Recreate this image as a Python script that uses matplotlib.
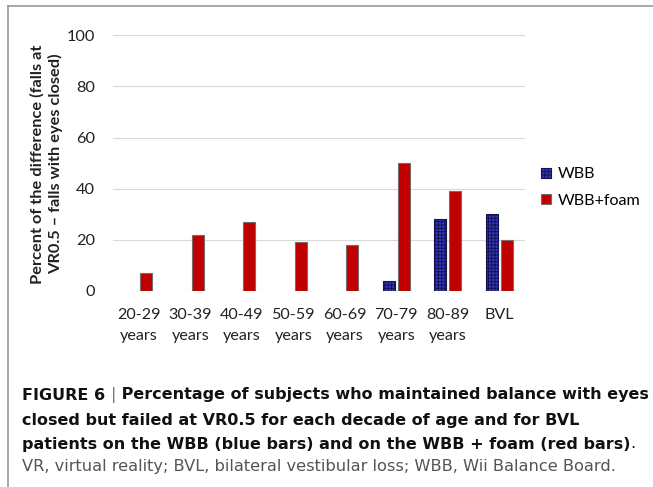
import numpy as np
import matplotlib.pyplot as plt
from matplotlib.lines import Line2D

# ---------- data ----------
categories = ["20-29\nyears", "30-39\nyears", "40-49\nyears", "50-59\nyears",
              "60-69\nyears", "70-79\nyears", "80-89\nyears", "BVL"]
wbb = [0, 0, 0, 0, 0, 4, 28, 30]
wbb_foam = [7, 22, 27, 19, 18, 50, 39, 20]
yticks = [0, 20, 40, 60, 80, 100]

ylabel = "Percent of the difference (falls at\nVR0.5 \u2013 falls with eyes closed)"
caption_head = "FIGURE 6 "
caption_rest = [" Percentage of subjects who maintained balance with eyes",
                "closed but failed at VR0.5 for each decade of age and for BVL",
                "patients on the WBB (blue bars) and on the WBB + foam (red bars)"]
caption_plain = "VR, virtual reality; BVL, bilateral vestibular loss; WBB, Wii Balance Board."

# ---------- figure ----------
W, H = 653, 487
fig = plt.figure(figsize=(W / 100, H / 100), dpi=100)
plt.rcParams['hatch.linewidth'] = 0.7

ax = fig.add_axes([113 / W, 1 - 291 / H, 412 / W, 255.7 / H])
x = np.arange(len(categories))
bw = 0.23
off = 0.145

# zero-height blue bars are not drawn
blue_x = [xi - off for xi, v in zip(x, wbb) if v > 0]
blue_v = [v for v in wbb if v > 0]
b1 = ax.bar(blue_x, blue_v, bw, color="#3434c8", edgecolor="#14144a",
            hatch="+++++", linewidth=0.8, zorder=3, label="WBB")
b2 = ax.bar(x + off, wbb_foam, bw, color="#c00000", edgecolor="#7a6a6a",
            linewidth=0.8, zorder=3, label="WBB+foam")

ax.set_xlim(-0.5, len(categories) - 0.5)
ax.set_ylim(0, 100)
ax.set_yticks(yticks)
ax.set_xticks(x)
ax.set_xticklabels(categories, fontfamily="Lato", fontsize=11.6,
                   color="#222222", linespacing=1.7)
for t in ax.get_yticklabels():
    t.set_fontfamily("Lato")
    t.set_fontsize(11.8)
    t.set_color("#222222")
ax.tick_params(axis="both", length=0)
ax.tick_params(axis="y", pad=13)
ax.tick_params(axis="x", pad=12)
ax.grid(axis="y", color="#d9d9d9", linewidth=0.8, zorder=0)
for s in ax.spines.values():
    s.set_visible(False)

fig.text(47 / W, 1 - 164 / H, ylabel, rotation=90, ha="center", va="center",
         multialignment="center", fontfamily="Lato", fontweight="bold",
         fontsize=11.8, color="#222222", linespacing=1.3)

fig.legend(handles=[b1, b2], loc="upper left",
           bbox_to_anchor=(534.5 / W, 1 - 161 / H), frameon=False,
           prop={"family": "Lato", "size": 11.6}, handlelength=0.62,
           handleheight=0.62, handletextpad=0.4, labelspacing=0.75,
           borderaxespad=0)

# ---------- caption ----------
cap_font = dict(fontfamily="DejaVu Sans", fontsize=11.5, color="#111111")
ys = [395, 420, 444]
head = fig.text(22 / W, 1 - ys[0] / H, caption_head, ha="left", va="center",
                fontweight="bold", **cap_font)
sep = fig.add_artist(plt.Annotation("|", xy=(1, 0.5), xycoords=head,
                                    ha="left", va="center",
                                    fontfamily="DejaVu Sans", fontsize=11.5,
                                    color="#777777"))
fig.add_artist(plt.Annotation(caption_rest[0], xy=(1, 0.5), xycoords=sep,
                              ha="left", va="center", fontweight="bold",
                              **cap_font))
fig.text(22 / W, 1 - ys[1] / H, caption_rest[1], ha="left", va="center",
         fontweight="bold", **cap_font)
last = fig.text(22 / W, 1 - ys[2] / H, caption_rest[2], ha="left",
                va="center", fontweight="bold", **cap_font)
fig.add_artist(plt.Annotation(".", xy=(1, 0.5), xycoords=last,
                              ha="left", va="center", **cap_font))
fig.text(22 / W, 1 - 467 / H, caption_plain, ha="left", va="center",
         fontfamily="DejaVu Sans", fontsize=11.7, color="#555555")

# frame lines
fig.add_artist(Line2D([8 / W, 1], [1 - 6 / H, 1 - 6 / H], color="#9a9a9a",
                      linewidth=1.2, transform=fig.transFigure))
fig.add_artist(Line2D([8 / W, 8 / W], [0, 1 - 6 / H], color="#9a9a9a",
                      linewidth=1.2, transform=fig.transFigure))

fig.savefig("out.png", dpi=100)
